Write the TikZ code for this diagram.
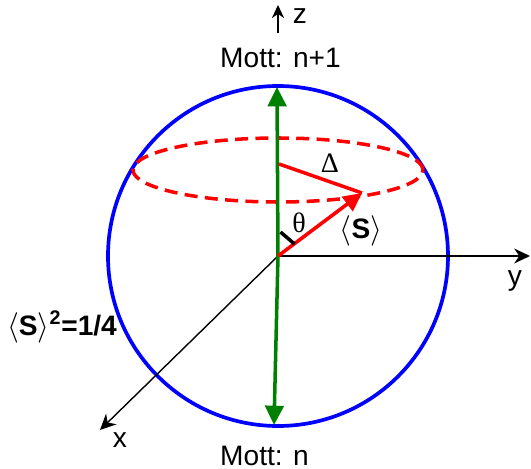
\documentclass[tikz,border=0pt]{standalone}
\usepackage{fontspec}
\setmainfont{Liberation Sans}
\newfontfamily\greekfont{Liberation Serif}
\usepackage{tikz}
\usetikzlibrary{arrows.meta}
\definecolor{sphereblue}{RGB}{0,0,255}
\definecolor{polegreen}{RGB}{0,128,0}
\definecolor{spinred}{RGB}{255,0,0}

\begin{document}
\begin{tikzpicture}[
  every node/.style={inner sep=0pt,font=\fontsize{16}{19}\selectfont},
  axis/.style={draw=black,line width=0.8pt,-{Stealth[length=9pt,width=8.5pt]}},
  pole/.style={draw=polegreen,line width=2pt,-{Triangle[length=11pt,width=10.5pt]}},
  spin/.style={draw=spinred,line width=2pt}]
  \useasboundingbox (-5.56,-4.26) rectangle (5.06,5.12);
  \coordinate(O) at(0,0);
  \draw[sphereblue,line width=2.1pt](O) circle (3.4);
  \draw[spin,dash pattern=on 7.4pt off 4.2pt](0,1.72) ellipse (2.9 and 0.64);
  % axes
  \coordinate(xend) at(-3.56,-3.48);
  \coordinate(yend) at(5.04,0);
  \coordinate(zlow) at(0,4.46);
  \coordinate(zend) at(0,5.02);
  \draw[axis](O)--(yend);\draw[axis](O)--(xend);
  \draw[axis,-{Stealth[length=7.5pt,width=7pt]}](zlow)--(zend);
  % Mott poles
  \coordinate(top) at(-0.02,3.38);
  \coordinate(bot) at(-0.08,-3.38);
  \draw[pole](O)--(top);\draw[pole](O)--(bot);
  % spin vector
  \coordinate(C) at(0.02,1.84);
  \coordinate(S) at(1.68,1.26);
  \draw[spin](C)--(S);
  \draw[spin,-{Triangle[length=10.5pt,width=10pt]}](O)--(S);
  \coordinate(t1) at(0.05,0.48);\coordinate(t2) at(0.33,0.24);
  \draw[black,line width=2pt](t1)--(t2);
  % labels
  \node(zl) at(0.44,4.8){z};
  \node(yl) at(4.74,-0.5){y};
  \node(xl) at(-3.16,-3.68){x};
  \node(mtop) at(0.05,3.96){Mott: n+1};
  \node(mbot) at(-0.27,-4.0){Mott: n};
  \node(dl) at(1.04,1.86){\greekfont Δ};
  \node(tl) at(0.42,0.66){\greekfont θ};
  \node(sl) at(1.66,0.5){$\langle$\textbf{S}$\rangle$};
  \node(norm) at(-4.32,-1.42){$\langle$\textbf{S}$\rangle$\textsuperscript{\textbf{2}}\textbf{=1/4}};
\end{tikzpicture}
\end{document}
